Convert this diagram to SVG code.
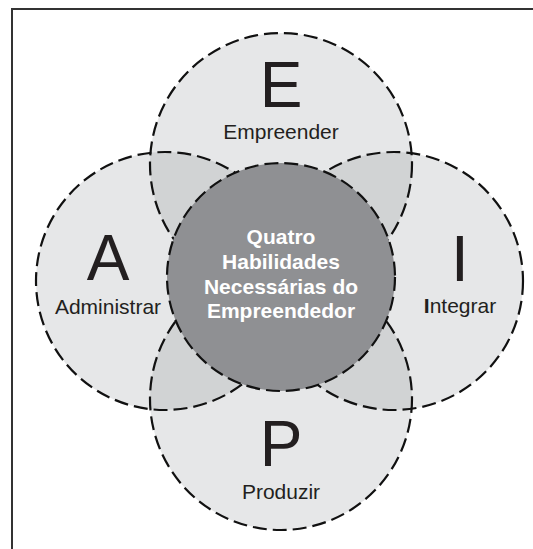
<svg xmlns="http://www.w3.org/2000/svg" width="533" height="549" viewBox="0 0 533 549">
<style>
.fill{fill:#e6e7e8;stroke:none}
.lens{fill:#d1d3d4;stroke:none}
.dash{fill:none;stroke:#111;stroke-width:2.2;stroke-dasharray:14 6}
.core{fill:#8f9093;stroke:#111;stroke-width:2.2;stroke-dasharray:14 6}
.big{font-family:"Liberation Sans",Arial,sans-serif;font-size:64px;fill:#231f20;text-anchor:middle}
.lbl{font-family:"Liberation Sans",Arial,sans-serif;font-size:21px;fill:#231f20;text-anchor:middle}
.ctr{font-family:"Liberation Sans",Arial,sans-serif;font-size:21px;font-weight:bold;fill:#fff;text-anchor:middle}
.frame{stroke:#333;stroke-width:2;fill:none}
</style>
<defs>
<circle id="cE" cx="281" cy="164" r="131"/>
<circle id="cA" cx="165" cy="281" r="129"/>
<circle id="cI" cx="394" cy="281" r="129"/>
<circle id="cP" cx="281" cy="399" r="131"/>
<clipPath id="clipA"><use href="#cA"/></clipPath>
<clipPath id="clipI"><use href="#cI"/></clipPath>
</defs>
<rect width="533" height="549" fill="#fff"/>
<g id="frame">
<line class="frame" x1="11" y1="9" x2="533" y2="9"/>
<line class="frame" x1="12" y1="8" x2="12" y2="549"/>
</g>
<g id="node-E">
<use href="#cE" class="fill"/>
<text class="big" x="281" y="107">E</text>
<text class="lbl" x="281" y="139">Empreender</text>
</g>
<g id="node-A">
<use href="#cA" class="fill"/>
<text class="big" x="108" y="280">A</text>
<text class="lbl" x="108" y="314">Administrar</text>
</g>
<g id="node-I">
<use href="#cI" class="fill"/>
<text class="big" x="460" y="281">I</text>
<text class="lbl" x="460" y="313"><tspan font-weight="bold">I</tspan>ntegrar</text>
</g>
<g id="node-P">
<use href="#cP" class="fill"/>
<text class="big" x="281" y="466">P</text>
<text class="lbl" x="281" y="499">Produzir</text>
</g>
<g id="overlaps">
<use href="#cE" class="lens" clip-path="url(#clipA)"/>
<use href="#cE" class="lens" clip-path="url(#clipI)"/>
<use href="#cP" class="lens" clip-path="url(#clipA)"/>
<use href="#cP" class="lens" clip-path="url(#clipI)"/>
</g>
<g id="connectors">
<use href="#cE" class="dash"/>
<use href="#cA" class="dash"/>
<use href="#cI" class="dash"/>
<use href="#cP" class="dash"/>
</g>
<g id="node-center">
<circle class="core" cx="281" cy="277" r="114"/>
<text class="ctr" x="281" y="244">Quatro</text>
<text class="ctr" x="281" y="269">Habilidades</text>
<text class="ctr" x="281" y="293.5">Necessárias do</text>
<text class="ctr" x="281" y="318">Empreendedor</text>
</g>
</svg>
